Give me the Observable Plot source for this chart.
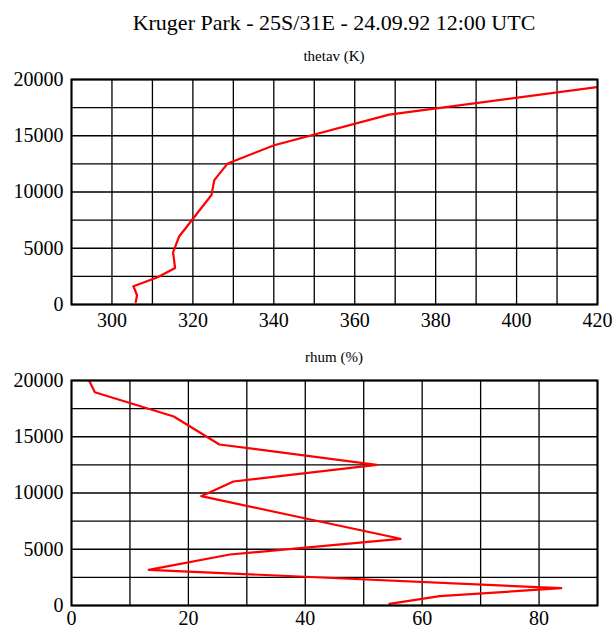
<!DOCTYPE html>
<html><head><meta charset="utf-8">
<script src="https://cdn.jsdelivr.net/npm/d3@7"></script>
<script src="https://cdn.jsdelivr.net/npm/@observablehq/plot@0.6"></script>
<style>
body{margin:0;background:#fff;}
#wrap{position:relative;width:613px;height:628px;font-family:"Times New Roman",Times,"Liberation Serif",serif;color:#000;overflow:hidden;}
.t{position:absolute;left:334px;transform:translateX(-50%);white-space:nowrap;line-height:1;}
.p{position:absolute;left:0;}
</style></head><body>
<div id="wrap">
<div class="t" style="top:11.5px;font-size:22px">Kruger Park - 25S/31E - 24.09.92 12:00 UTC</div>
<div class="t" style="top:49px;font-size:15px">thetav (K)</div>
<div class="t" style="top:349.5px;font-size:15px">rhum (%)</div>
<div class="p" id="p1" style="top:70px"></div>
<div class="p" id="p2" style="top:370px"></div>
</div>
<script>
const title = "Kruger Park - 25S/31E - 24.09.92 12:00 UTC";
// thetav profile
const thetavHeight = [240, 823, 1620, 2416, 3245, 4630, 6045, 9735, 11060, 12540, 14160, 16876, 19320];
const thetav = [305.9, 306.2, 305.3, 311.3, 315.6, 315.1, 316.6, 324.6, 325.3, 328.6, 340.1, 368.5, 420];
// rhum profile
const rhumHeight = [151, 827, 1538, 3173, 4533, 5929, 9716, 11022, 12508, 14311, 16800, 18960, 20000];
const rhum = [54.4, 63.0, 83.8, 13.2, 27.1, 56.3, 22.2, 27.7, 52.2, 25.3, 17.5, 4.0, 3.0];
// ticks and grid
const thetavTicks = [300, 320, 340, 360, 380, 400, 420];
const thetavGrid = [290, 300, 310, 320, 330, 340, 350, 360, 370, 380, 390, 400, 410, 420];
const rhumTicks = [0, 20, 40, 60, 80];
const rhumGrid = [0, 10, 20, 30, 40, 50, 60, 70, 80, 90];
const heightTicks = [0, 5000, 10000, 15000, 20000];
const heightGrid = [0, 2500, 5000, 7500, 10000, 12500, 15000, 17500, 20000];

const serif = '"Times New Roman", Times, "Liberation Serif", serif';
function panel(vals, heights, xDomain, xGrid, xTicks, mt, mb, h, pad) {
  const rows = vals.map((v, i) => ({v, h: heights[i]}));
  const svg = Plot.plot({
    width: 613, height: h,
    marginLeft: 71, marginRight: 16, marginTop: mt, marginBottom: mb,
    style: {fontFamily: serif, fontSize: "20px", color: "#000", background: "white", overflow: "visible"},
    x: {domain: xDomain},
    y: {domain: [0, 20000]},
    marks: [
      Plot.ruleX(xGrid, {stroke: "#000", strokeWidth: 1.3}),
      Plot.ruleY(heightGrid, {stroke: "#000", strokeWidth: 1.3}),
      Plot.line(rows, {x: "v", y: "h", stroke: "#ff0000", strokeWidth: 2.2, clip: true}),
      Plot.frame({stroke: "#000", strokeWidth: 2}),
      Plot.axisX(xTicks, {tickSize: 0, tickPadding: pad, label: null, fontSize: 20, fontFamily: serif, tickFormat: "d"}),
      Plot.axisY(heightTicks, {tickSize: 0, tickPadding: 8, label: null, fontSize: 20, fontFamily: serif, tickFormat: "d"})
    ]
  });
  d3.select(svg).selectAll("text").style("font-family", serif);
  return svg;
}
document.getElementById("p1").append(panel(thetav, thetavHeight, [290, 420], thetavGrid, thetavTicks, 9, 26, 260, 8));
document.getElementById("p2").append(panel(rhum, rhumHeight, [0, 90], rhumGrid, rhumTicks, 10, 23, 258, 5));
</script>
</body></html>
